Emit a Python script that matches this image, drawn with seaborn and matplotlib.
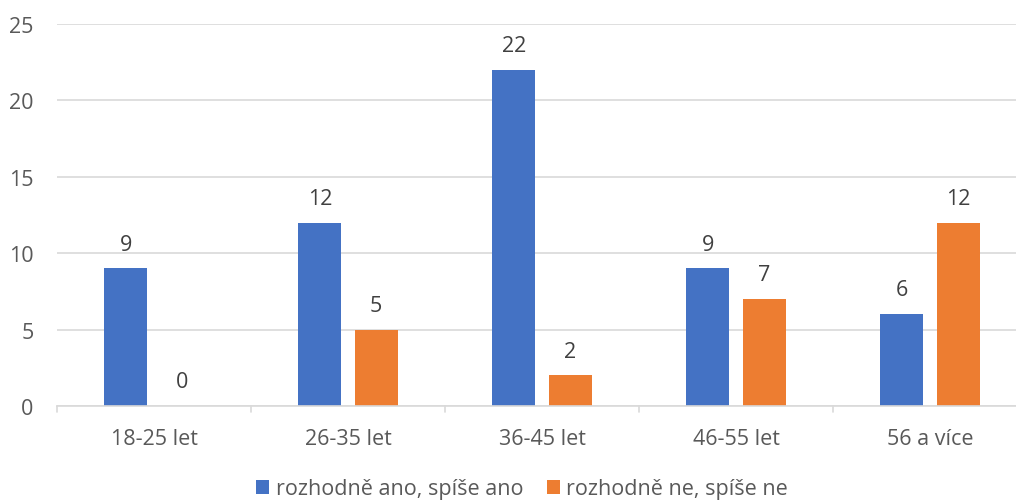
import matplotlib
matplotlib.use("Agg")
import matplotlib.pyplot as plt
import seaborn as sns
import pandas as pd
from matplotlib.patches import Patch

categories = ["18-25 let", "26-35 let", "36-45 let", "46-55 let", "56 a více"]
series_names = ["rozhodně ano, spíše ano", "rozhodně ne, spíše ne"]
yes_values = [9, 12, 22, 9, 6]
no_values = [0, 5, 2, 7, 12]
y_ticks = [0, 5, 10, 15, 20, 25]
colors = ["#4472C4", "#ED7D31"]

df = pd.DataFrame({
    "kategorie": categories * 2,
    "odpověď": [series_names[0]] * len(categories) + [series_names[1]] * len(categories),
    "počet": yes_values + no_values,
})

sns.set_theme(style="white")
plt.rcParams["font.family"] = ["Open Sans", "DejaVu Sans"]

fig = plt.figure(figsize=(10.16, 5.02), dpi=100)
W, H = 1016, 502
ax = fig.add_axes([57 / W, (H - 407) / H, (W - 57) / W, 382 / H])

sns.barplot(data=df, x="kategorie", y="počet", hue="odpověď",
            palette=colors, width=0.58, gap=0.235, ax=ax,
            legend=False, saturation=1, linewidth=0)

ax.set_xlim(-0.5, -0.5 + (W - 57) / 194)
ax.set_ylim(0, 25)
ax.set_yticks(y_ticks)
ax.grid(axis="y", color="#D9D9D9", linewidth=1.2)
ax.set_axisbelow(True)
for s in ["top", "right", "left"]:
    ax.spines[s].set_visible(False)
ax.spines["bottom"].set_color("#D9D9D9")
ax.spines["bottom"].set_linewidth(1.2)

ax.set_xlabel("")
ax.set_ylabel("")
ax.tick_params(axis="y", length=0, pad=17, labelsize=15.5, labelcolor="#595959")
ax.tick_params(axis="x", length=0, pad=16, labelsize=15.5, labelcolor="#595959")

# category separator ticks on the bottom axis
for b in [i - 0.5 for i in range(len(categories) + 1)]:
    ax.plot([b, b], [0, -0.4], color="#D9D9D9", linewidth=1.2, clip_on=False)

for cont in ax.containers:
    ax.bar_label(cont, fmt="%d", padding=10, fontsize=15.5, color="#404040")

handles = [Patch(facecolor=c, edgecolor="none") for c in colors]
fig.legend(handles, series_names, loc="center", bbox_to_anchor=(522 / W, 1 - 490 / H),
           ncol=2, frameon=False, fontsize=15.5, labelcolor="#595959",
           handlelength=0.6, handleheight=0.6, handletextpad=0.3, columnspacing=1.1)

fig.savefig("out.png", dpi=100)
